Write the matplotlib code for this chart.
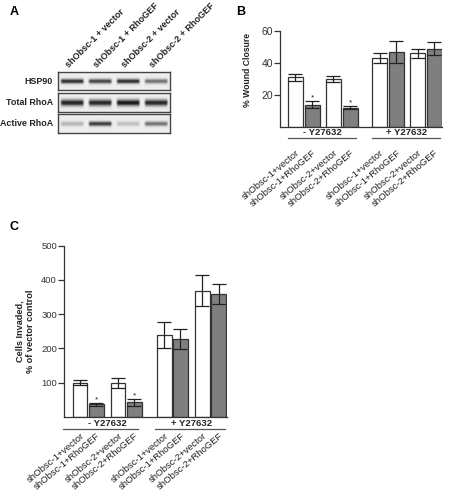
import numpy as np
import matplotlib
matplotlib.use("Agg")
import matplotlib.pyplot as plt

plt.rcParams['font.family'] = ['Liberation Sans', 'DejaVu Sans']

# ---------------- data ----------------
conditions = ["shObsc-1+vector", "shObsc-1+RhoGEF", "shObsc-2+vector", "shObsc-2+RhoGEF",
              "shObsc-1+vector", "shObsc-1+RhoGEF", "shObsc-2+vector", "shObsc-2+RhoGEF"]
groups = ["- Y27632", "+ Y27632"]
is_gef = [False, True, False, True, False, True, False, True]
starred = [False, True, False, True, False, False, False, False]

wound_mean = [31, 14, 30, 12, 43, 47, 46, 49]
wound_err = [2, 2, 2, 1, 3, 7, 3, 4]

invade_mean = [100, 37, 100, 43, 240, 227, 368, 358]
invade_err = [8, 5, 14, 10, 38, 30, 45, 30]

blot_lanes = ["shObsc-1 + vector", "shObsc-1 + RhoGEF", "shObsc-2 + vector", "shObsc-2 + RhoGEF"]
blot_rows = ["HSP90", "Total RhoA", "Active RhoA"]
hsp90_int = [0.85, 0.75, 0.85, 0.55]
total_int = [0.9, 0.88, 0.95, 0.88]
active_int = [0.25, 0.8, 0.2, 0.55]

W, H = 450, 491
fig = plt.figure(figsize=(W / 100, H / 100), dpi=100)


def rect(x0, y0, x1, y1):
    return [x0 / W, 1 - y1 / H, (x1 - x0) / W, (y1 - y0) / H]


WHITE = "white"
GRAY = "#7f7f7f"
EDGE = "#333333"


def bar_panel(ax, pos, width, means, errs, ylim, yticks, ytick_fs, grp_line_y, grp_text_y,
              grp_ext, lab_pad, star_off):
    colors = [GRAY if g else WHITE for g in is_gef]
    ax.bar(pos, means, width=width, color=colors, edgecolor=EDGE, linewidth=0.9, zorder=2)
    ax.errorbar(pos, means, yerr=errs, fmt="none", ecolor="#222222", elinewidth=0.9,
                capsize=5, capthick=0.9, zorder=3)
    for p, m, e, s in zip(pos, means, errs, starred):
        if s:
            ax.text(p, m + e + star_off, "*", ha="center", va="center", fontsize=6, color="#222222")
    ax.set_ylim(*ylim)
    ax.set_yticks(yticks)
    ax.tick_params(axis="y", labelsize=ytick_fs, length=4, width=0.9, pad=1, colors="#333333")
    ax.set_xticks(pos)
    ax.set_xticklabels(conditions, rotation=40, ha="right", rotation_mode="anchor",
                       fontsize=6.8, color="#222222")
    ax.tick_params(axis="x", length=0, pad=lab_pad)
    for s in ["top", "right"]:
        ax.spines[s].set_visible(False)
    for s in ["left", "bottom"]:
        ax.spines[s].set_linewidth(0.9)
        ax.spines[s].set_color("#333333")
    tr = ax.get_xaxis_transform()
    for gi, g in enumerate(groups):
        x0, x1 = grp_ext[gi]
        ax.plot([x0, x1], [grp_line_y, grp_line_y], transform=tr, color="#555555",
                linewidth=0.9, clip_on=False)
        ax.text((pos[4 * gi] + pos[4 * gi + 3]) / 2, grp_text_y, g, transform=tr,
                ha="center", va="center", fontsize=6.8, fontweight="bold", color="#222222")


# ---------------- panel B ----------------
posB = [0, 1, 2.25, 3.25, 5, 6, 7.25, 8.25]
axB = fig.add_axes(rect(280, 31, 442, 127))
axB.set_xlim(-0.91, 8.7)
bar_panel(axB, posB, 0.88, wound_mean, wound_err, (0, 60), [20, 40, 60], 7.5,
          -0.114, -0.06, [(-0.44, 3.62), (4.56, 8.56)], 15, 2.2)
fig.text(248 / W, 1 - 70 / H, "% Wound Closure", rotation=90, ha="center", va="center",
         fontsize=6.2, fontweight="bold", color="#222222")

# ---------------- panel C ----------------
posC = [0, 1, 2.35, 3.35, 5.2, 6.2, 7.55, 8.55]
axC = fig.add_axes(rect(64, 245.5, 227, 417))
axC.set_xlim(-0.99, 9.07)
bar_panel(axC, posC, 0.9, invade_mean, invade_err, (0, 500), [100, 200, 300, 400, 500], 6.8,
          -0.07, -0.038, [(-1.05, 3.58), (4.63, 8.95)], 10.5, 9)
fig.text(25 / W, 1 - 331 / H, "Cells Invaded,\n% of vector control", rotation=90,
         ha="center", va="center", fontsize=6.6, fontweight="bold", color="#222222",
         linespacing=1.15)

# ---------------- panel A (blot) ----------------
strips = [(72, 90), (93, 112), (114, 133)]
intens = [hsp90_int, total_int, active_int]
band_sig = [1.6, 2.2, 1.6]
nx = 224
for (y0, y1), lab, vals, sig in zip(strips, blot_rows, intens, band_sig):
    ax = fig.add_axes(rect(58, y0, 170, y1))
    ny = int((y1 - y0) * 2)
    xs = np.linspace(0, len(vals), nx, endpoint=False)
    lane = np.floor(xs).astype(int)
    frac = xs - lane
    prof_x = np.clip(np.minimum(frac - 0.06, 0.94 - frac) / 0.08, 0, 1)
    amp = np.array(vals)[lane] * prof_x
    yy = np.arange(ny) / 2.0
    prof_y = np.exp(-0.5 * ((yy - (y1 - y0) / 2) / sig) ** 2)
    img = 0.93 - np.outer(prof_y, amp) * 0.9
    ax.imshow(img, cmap="gray", vmin=0, vmax=1, aspect="auto", interpolation="bilinear")
    ax.set_xticks([])
    ax.set_yticks([])
    for s in ax.spines.values():
        s.set_linewidth(1.0)
        s.set_color("#444444")
    fig.text(53 / W, 1 - ((y0 + y1) / 2) / H, lab, ha="right", va="center",
             fontsize=6.4, fontweight="bold", color="#222222")

for i, lab in enumerate(blot_lanes):
    xc = 58 + 28 * (i + 0.5)
    fig.text((xc - 2) / W, 1 - 69 / H, lab, rotation=45, rotation_mode="anchor",
             ha="left", va="bottom", fontsize=6.5, fontweight="bold", color="#222222")

# panel letters
fig.text(10 / W, 1 - 12 / H, "A", fontsize=9, fontweight="bold", va="center")
fig.text(236 / W, 1 - 12 / H, "B", fontsize=9, fontweight="bold", va="center")
fig.text(10 / W, 1 - 227 / H, "C", fontsize=9, fontweight="bold", va="center")

fig.savefig("out.png", dpi=100, facecolor="white")
